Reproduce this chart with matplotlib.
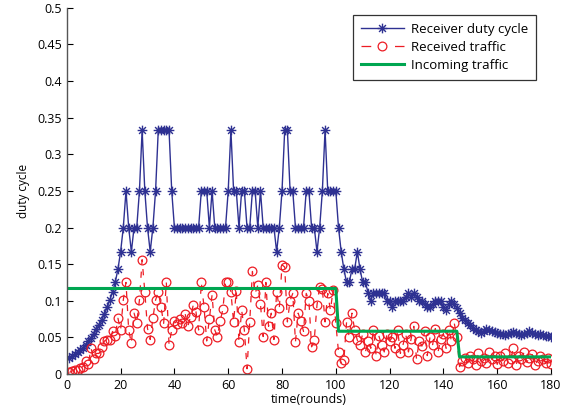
import matplotlib
matplotlib.use("Agg")
import matplotlib.pyplot as plt
from matplotlib.path import Path
import numpy as np

plt.rcParams['font.family'] = ['Open Sans', 'DejaVu Sans']

rounds = np.arange(1, 181)

duty_cycle = [
    0.022, 0.024, 0.027, 0.030, 0.033, 0.036, 0.040, 0.045, 0.049, 0.055,
    0.061, 0.067, 0.074, 0.082, 0.091, 0.101, 0.112, 0.125, 0.143, 0.167,
    0.2, 0.25, 0.2, 0.167, 0.2, 0.2, 0.25, 0.333, 0.25, 0.2,
    0.167, 0.2, 0.25, 0.333, 0.333, 0.333, 0.333, 0.333, 0.25, 0.2,
    0.2, 0.2, 0.2, 0.2, 0.2, 0.2, 0.2, 0.2, 0.2, 0.25,
    0.25, 0.25, 0.2, 0.25, 0.2, 0.2, 0.2, 0.2, 0.2, 0.25,
    0.333, 0.25, 0.25, 0.2, 0.25, 0.25, 0.2, 0.2, 0.25, 0.25,
    0.2, 0.25, 0.2, 0.2, 0.2, 0.2, 0.2, 0.167, 0.2, 0.25,
    0.333, 0.333, 0.25, 0.25, 0.2, 0.2, 0.2, 0.2, 0.25, 0.25,
    0.2, 0.2, 0.167, 0.2, 0.25, 0.333, 0.25, 0.25, 0.25, 0.25,
    0.2, 0.167, 0.143, 0.125, 0.125, 0.143, 0.143, 0.167, 0.143, 0.125,
    0.125, 0.111, 0.1, 0.111, 0.111, 0.111, 0.111, 0.111, 0.1, 0.1,
    0.091, 0.1, 0.1, 0.1, 0.1, 0.105, 0.111, 0.105, 0.111, 0.105,
    0.1, 0.1, 0.095, 0.091, 0.091, 0.095, 0.1, 0.1, 0.1, 0.091,
    0.087, 0.095, 0.1, 0.095, 0.09, 0.083, 0.077, 0.074, 0.07, 0.067,
    0.063, 0.06, 0.058, 0.056, 0.059, 0.062, 0.06, 0.058, 0.057, 0.056,
    0.055, 0.054, 0.053, 0.054, 0.056, 0.057, 0.056, 0.054, 0.053, 0.054,
    0.056, 0.058, 0.056, 0.054, 0.053, 0.054, 0.053, 0.052, 0.052, 0.051,
]

received = [
    0.002, 0.004, 0.006, 0.005, 0.008, 0.010, 0.017, 0.014, 0.035, 0.021,
    0.028, 0.028, 0.037, 0.045, 0.047, 0.047, 0.058, 0.052, 0.076, 0.060,
    0.101, 0.125, 0.060, 0.042, 0.083, 0.070, 0.101, 0.156, 0.112, 0.062,
    0.047, 0.076, 0.101, 0.112, 0.092, 0.069, 0.125, 0.040, 0.060, 0.072,
    0.068, 0.075, 0.070, 0.082, 0.065, 0.078, 0.094, 0.085, 0.060, 0.125,
    0.092, 0.045, 0.075, 0.108, 0.060, 0.051, 0.072, 0.088, 0.125, 0.125,
    0.112, 0.071, 0.113, 0.044, 0.087, 0.060, 0.007, 0.071, 0.140, 0.110,
    0.121, 0.095, 0.051, 0.125, 0.065, 0.083, 0.047, 0.112, 0.090, 0.149,
    0.146, 0.071, 0.100, 0.110, 0.044, 0.083, 0.072, 0.058, 0.110, 0.100,
    0.037, 0.047, 0.094, 0.119, 0.116, 0.071, 0.110, 0.087, 0.115, 0.069,
    0.030, 0.015, 0.019, 0.071, 0.050, 0.083, 0.060, 0.046, 0.040, 0.055,
    0.030, 0.045, 0.035, 0.060, 0.025, 0.052, 0.040, 0.030, 0.055, 0.045,
    0.050, 0.035, 0.060, 0.028, 0.040, 0.055, 0.030, 0.048, 0.065, 0.020,
    0.045, 0.038, 0.058, 0.025, 0.050, 0.040, 0.062, 0.030, 0.048, 0.055,
    0.035, 0.060, 0.045, 0.070, 0.050, 0.010, 0.018, 0.022, 0.015, 0.025,
    0.020, 0.012, 0.028, 0.018, 0.022, 0.015, 0.030, 0.020, 0.025, 0.013,
    0.024, 0.018, 0.028, 0.015, 0.020, 0.035, 0.012, 0.025, 0.020, 0.030,
    0.016, 0.022, 0.027, 0.012, 0.018, 0.025, 0.020, 0.015, 0.022, 0.014,
]

incoming_levels = [0.1167, 0.0583, 0.0233]
incoming_ends = [100, 145, 180]
incoming = []
start = 1
for lvl, end in zip(incoming_levels, incoming_ends):
    incoming += [lvl] * (end - start + 1)
    start = end + 1

blue = '#2e3192'
red = '#ed1c24'
green = '#00a651'

# MATLAB-style asterisk marker (stroked lines)
d = 0.7071
asterisk = Path(
    [(-1, 0), (1, 0), (0, -1), (0, 1), (-d, -d), (d, d), (-d, d), (d, -d)],
    [Path.MOVETO, Path.LINETO] * 4,
)

fig = plt.figure(figsize=(5.71, 4.15), dpi=100)
ax = fig.add_axes([0.117, 0.099, 0.848, 0.882])

ax.plot(rounds, duty_cycle, color=blue, marker=asterisk, markersize=7,
        markeredgewidth=1.0, linewidth=1.0, label='Receiver duty cycle')
ax.plot(rounds, received, color=red, linestyle='--', marker='o', markersize=6.3,
        markerfacecolor='none', markeredgewidth=0.9, linewidth=0.9, dashes=(5, 6),
        label='Received traffic')
ax.plot(rounds, incoming, color=green, linewidth=2.2, label='Incoming traffic')

ax.set_xlim(0, 180)
ax.set_ylim(0, 0.5)
ax.set_xticks(np.arange(0, 181, 20))
ax.set_yticks(np.arange(0, 0.501, 0.05))
ax.set_yticklabels(['0', '0.05', '0.1', '0.15', '0.2', '0.25', '0.3', '0.35', '0.4', '0.45', '0.5'])
ax.tick_params(direction='in', length=4, labelsize=9, colors='black')
for side in ['top', 'right']:
    ax.spines[side].set_visible(False)
for side in ['left', 'bottom']:
    ax.spines[side].set_color('#555555')
    ax.spines[side].set_linewidth(1.0)
ax.set_xlabel('time(rounds)', fontsize=9, labelpad=1)
ax.set_ylabel('duty cycle', fontsize=8.5, labelpad=5)

leg = ax.legend(loc='upper right', bbox_to_anchor=(0.969, 0.981), fontsize=9.5,
                frameon=True, fancybox=False, edgecolor='black', handlelength=3.3,
                borderpad=0.6, labelspacing=0.38, handletextpad=0.5, borderaxespad=0)
leg.get_frame().set_linewidth(0.9)
# legend handle for received traffic: "- o -" symmetric dash pattern
leg.get_lines()[1].set_linestyle((0, (7.8, 19.0)))
fig.canvas.draw()
# widen the frame on the right a little, MATLAB-style
bb = leg.get_frame()
bb.set_width(bb.get_width() + 8)

fig.savefig('out.png', dpi=100)
